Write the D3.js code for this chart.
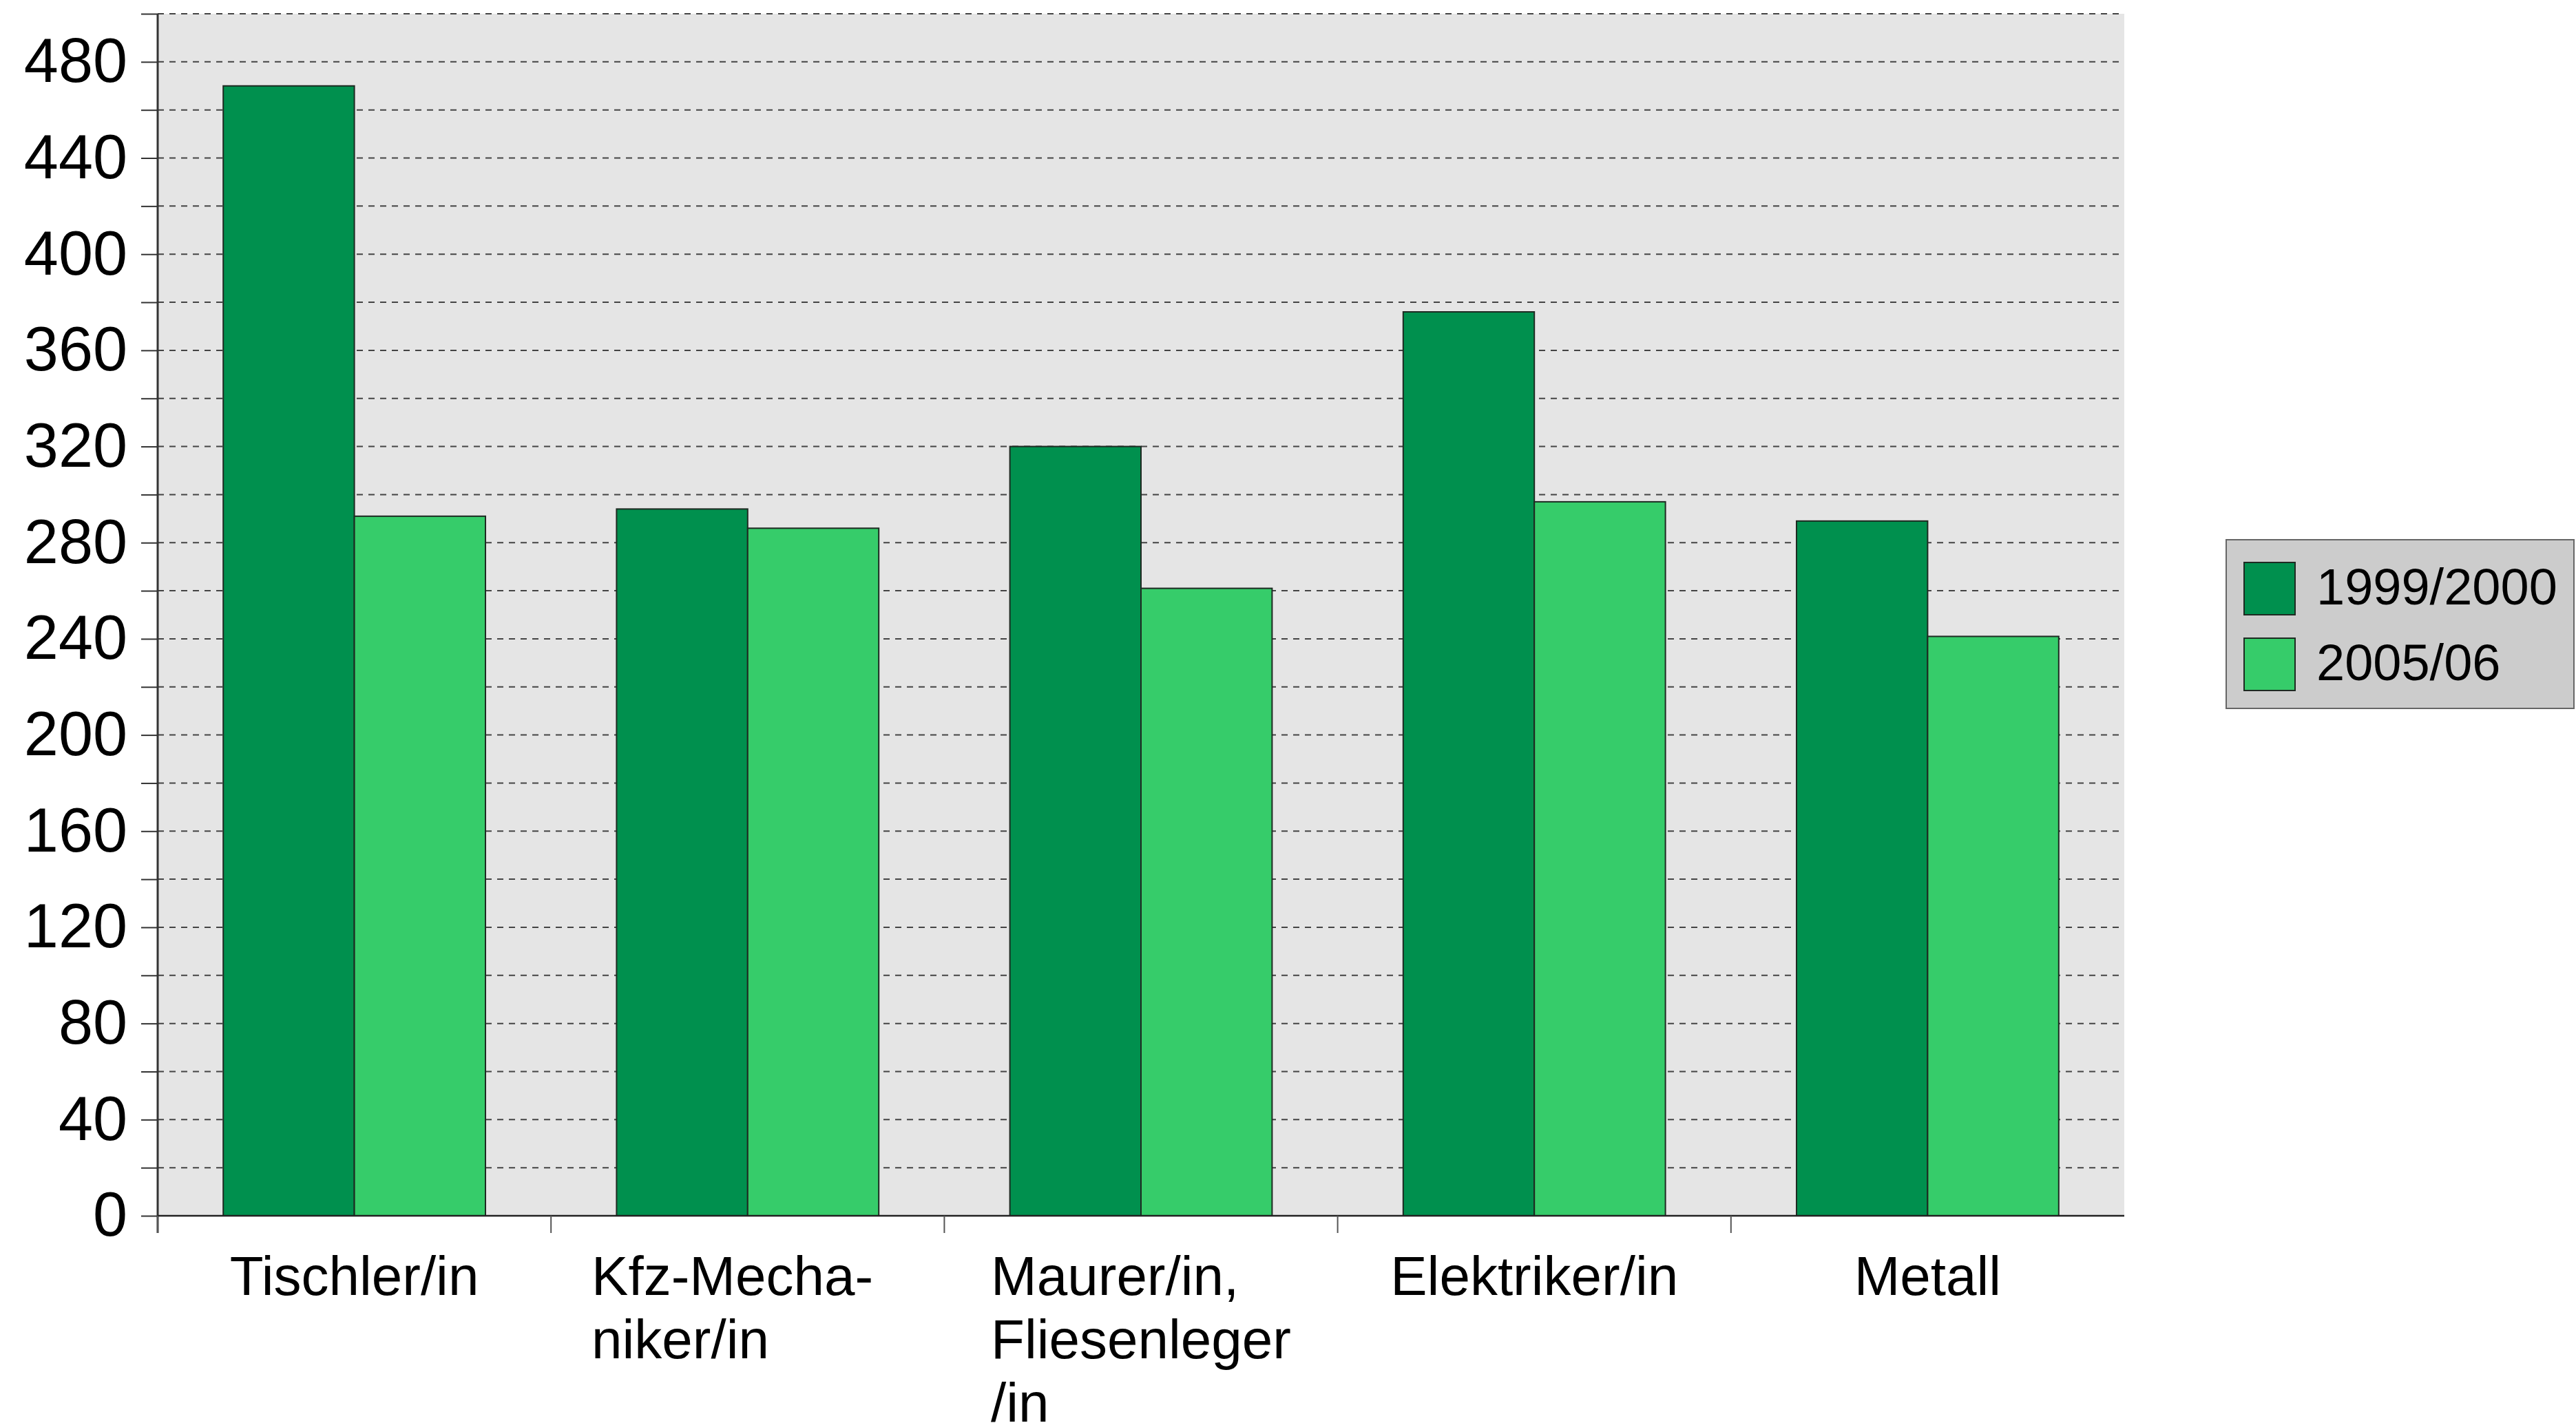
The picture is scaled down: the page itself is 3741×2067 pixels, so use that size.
<!DOCTYPE html>
<html lang="de">
  <head>
    <meta charset="UTF-8" />
    <title>Ausbildungsberufe</title>
    <script src="https://d3js.org/d3.v7.min.js"></script>
    <style>
      body {
        margin: 0;
        background: #fff;
        font-family: "Liberation Sans", Arial, sans-serif;
      }
    </style>
  </head>
  <body>
    <div id="chart"></div>
    <script>
      const categories = ["Tischler/in", "Kfz-Mechaniker/in", "Maurer/in, Fliesenleger/in", "Elektriker/in", "Metall"];
      const categoryLines = [
        ["Tischler/in"],
        ["Kfz-Mecha-\u00a0\u00a0", "niker/in"],
        ["Maurer/in,", "Fliesenleger", "/in"],
        ["Elektriker/in"],
        ["Metall"]
      ];
      const series = ["1999/2000", "2005/06"];
      const values1999 = [470, 294, 320, 376, 289];
      const values2005 = [291, 286, 261, 297, 241];
      const colors = ["#00904e", "#36cc6a"];

      const width = 3741;
      const height = 2067;
      const plotLeft = 229, plotRight = 3085, plotTop = 20, plotBottom = 1766;

      const svg = d3
        .select("#chart")
        .append("svg")
        .attr("width", width)
        .attr("height", height);

      const x = d3
        .scaleBand()
        .domain(categories)
        .range([plotLeft, plotRight])
        .paddingInner(1 / 3)
        .paddingOuter(1 / 6);

      const xs = d3.scaleBand().domain(series).range([0, x.bandwidth()]);

      const y = d3.scaleLinear().domain([0, 500]).range([plotBottom, plotTop]);

      // plot background
      svg
        .append("rect")
        .attr("x", plotLeft)
        .attr("y", plotTop)
        .attr("width", plotRight - plotLeft)
        .attr("height", plotBottom - plotTop)
        .attr("fill", "#e5e5e5");

      // dashed grid
      svg
        .append("g")
        .selectAll("line")
        .data(d3.range(20, 501, 20))
        .join("line")
        .attr("x1", plotLeft)
        .attr("x2", plotRight)
        .attr("y1", (d) => y(d))
        .attr("y2", (d) => y(d))
        .attr("stroke", "#444")
        .attr("stroke-width", 2)
        .attr("stroke-dasharray", "9,8");

      // bars
      const rows = categories.map((c, i) => ({
        cat: c,
        vals: [values1999[i], values2005[i]]
      }));

      svg
        .append("g")
        .selectAll("g")
        .data(rows)
        .join("g")
        .attr("transform", (d) => `translate(${x(d.cat)},0)`)
        .selectAll("rect")
        .data((d) => d.vals.map((v, j) => ({ s: series[j], v, j })))
        .join("rect")
        .attr("x", (d) => xs(d.s))
        .attr("y", (d) => y(d.v))
        .attr("width", xs.bandwidth())
        .attr("height", (d) => y(0) - y(d.v))
        .attr("fill", (d) => colors[d.j])
        .attr("stroke", "#1e2a22")
        .attr("stroke-width", 2);

      // y axis
      const yAxis = svg
        .append("g")
        .attr("transform", `translate(${plotLeft},0)`)
        .call(
          d3
            .axisLeft(y)
            .tickValues(d3.range(0, 501, 20))
            .tickFormat((d) => (d % 40 === 0 && d < 500 ? d : ""))
            .tickSize(24)
            .tickPadding(20)
        );
      yAxis.select(".domain").remove();
      yAxis.selectAll(".tick line").attr("stroke", "#333").attr("stroke-width", 2);
      yAxis
        .selectAll(".tick text")
        .attr("font-family", "'Liberation Sans', Arial, sans-serif")
        .attr("font-size", 90)
        .attr("fill", "#000");

      svg
        .append("line")
        .attr("x1", plotLeft)
        .attr("x2", plotLeft)
        .attr("y1", plotTop)
        .attr("y2", plotBottom + 25)
        .attr("stroke", "#333")
        .attr("stroke-width", 3);

      // x axis
      svg
        .append("line")
        .attr("x1", plotLeft)
        .attr("x2", plotRight)
        .attr("y1", plotBottom)
        .attr("y2", plotBottom)
        .attr("stroke", "#222")
        .attr("stroke-width", 2.5);

      svg
        .append("g")
        .selectAll("line")
        .data(categories)
        .join("line")
        .attr("x1", (d) => x(d) - x.step() / 6)
        .attr("x2", (d) => x(d) - x.step() / 6)
        .attr("y1", plotBottom)
        .attr("y2", plotBottom + 25)
        .attr("stroke", "#555")
        .attr("stroke-width", 2);

      const labels = svg
        .append("g")
        .attr("font-family", "'Liberation Sans', Arial, sans-serif")
        .attr("font-size", 80)
        .attr("fill", "#000")
        .selectAll("text")
        .data(categories)
        .join("text")
        .attr("y", 1881);

      labels.each(function (d, i) {
        const t = d3.select(this);
        const lines = categoryLines[i];
        lines.forEach((ln, k) => {
          t.append("tspan").attr("dy", k === 0 ? 0 : 92).text(ln);
        });
        const cx = x(d) + x.bandwidth() / 2;
        const tspans = t.selectAll("tspan").nodes();
        const maxW = d3.max(tspans, (n) => n.getComputedTextLength());
        t.selectAll("tspan").attr("x", cx - maxW / 2);
      });

      // legend
      const legend = svg.append("g");
      legend
        .append("rect")
        .attr("x", 3233)
        .attr("y", 784)
        .attr("width", 505)
        .attr("height", 245)
        .attr("fill", "#cccccc")
        .attr("stroke", "#666")
        .attr("stroke-width", 2);

      const items = legend
        .selectAll("g")
        .data(series)
        .join("g")
        .attr("transform", (d, i) => `translate(3259,${817 + i * 110})`);

      items
        .append("rect")
        .attr("width", 74)
        .attr("height", 76)
        .attr("fill", (d, i) => colors[i])
        .attr("stroke", "#1e2a22")
        .attr("stroke-width", 2);

      items
        .append("text")
        .attr("x", 105)
        .attr("y", 61)
        .attr("font-family", "'Liberation Sans', Arial, sans-serif")
        .attr("font-size", 74)
        .attr("fill", "#000")
        .text((d) => d);
    </script>
  </body>
</html>
